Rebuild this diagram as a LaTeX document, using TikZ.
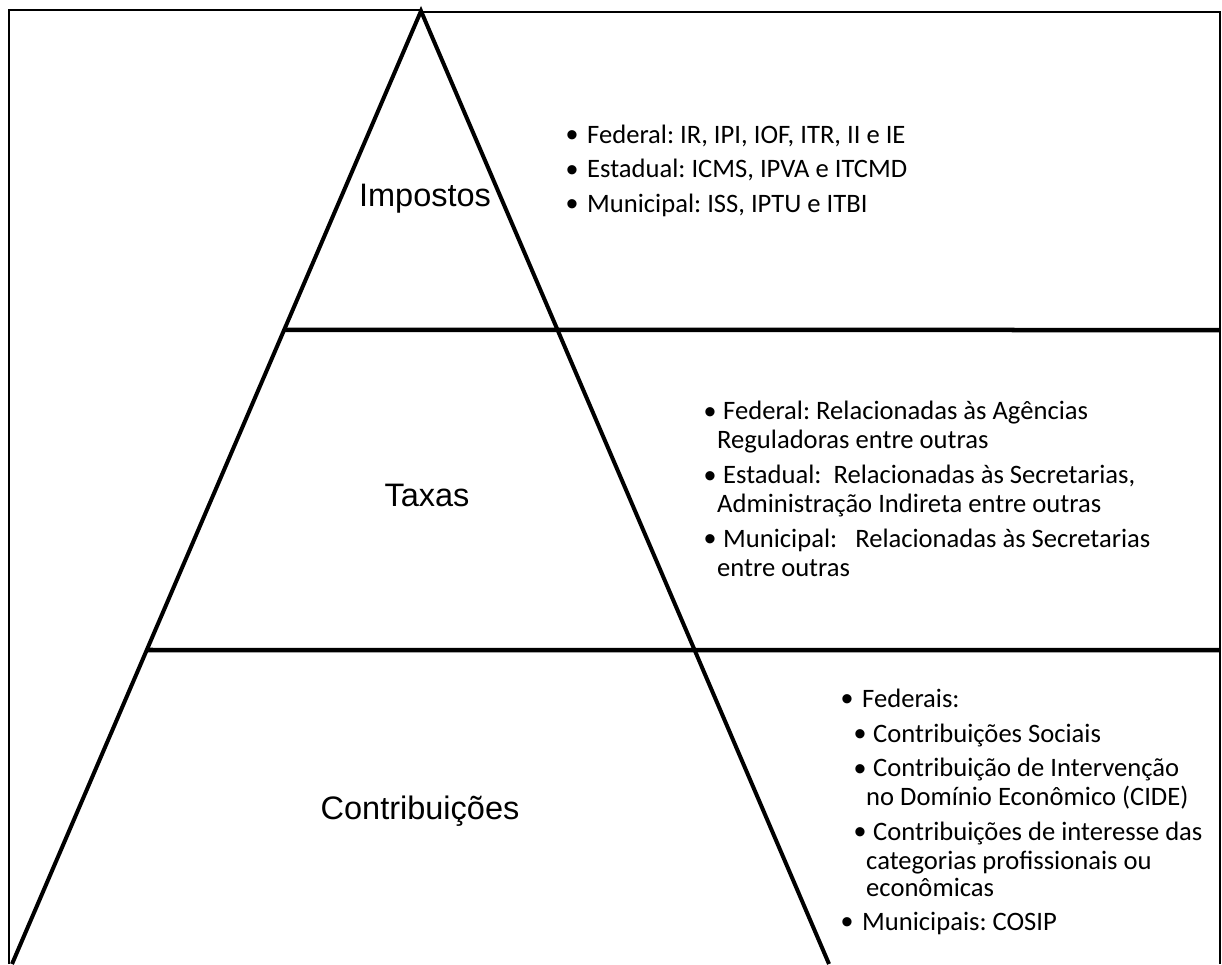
\documentclass[tikz,border=0pt]{standalone}
\usepackage{fontspec}
\setmainfont{Carlito}
\newfontfamily\arialf{Liberation Sans}
\usetikzlibrary{calc}
\frenchspacing
\begin{document}
\frenchspacing
\begin{tikzpicture}[x=1pt,y=-1pt,
  lbl/.style={font=\arialf\fontsize{32.5}{38}\selectfont, inner sep=0pt, anchor=base},
  txt/.style={font=\fontsize{26.6}{29}\selectfont, inner sep=0pt, anchor=base west},
  bul/.style={font=\arialf\fontsize{34}{36}\selectfont, inner sep=0pt, anchor=base west, yshift=-3.5pt},
  frameline/.style={line width=1.5pt},
  boxline/.style={line width=2.5pt},
  side/.style={line width=4pt, line join=miter},
  band/.style={line width=4.5pt}]
\useasboundingbox (0,0) rectangle (1222,964);
% key points
\coordinate (A) at (421,11);
\coordinate (BL) at (12,964);
\coordinate (BR) at (829,964);
\coordinate (FL) at (9,964);
\coordinate (FT) at (9,10);
\coordinate (FA) at (421,10);
\coordinate (RT) at (421,12);
\coordinate (RC) at (1220,12);
\coordinate (RB) at (1220,964);
\coordinate (H1L) at ($(A)!0.3347!(BL)$);
\coordinate (H2L) at ($(A)!0.6705!(BL)$);
\coordinate (H1R) at (1220,330);
\coordinate (H2R) at (1220,650);
% frame
\draw[frameline] (FL) -- (FT) -- (FA);
\draw[boxline] (RT) -- (RC) -- (RB);
% pyramid
\draw[side] (BL) -- (A) -- (BR);
\draw[band] (H1L) -- (H1R);
\draw[band] (H2L) -- (H2R);
% labels
\node[lbl] (imp) at (425,206) {Impostos};
\node[lbl] (tax) at (427,506) {Taxas};
\node[lbl] (con) at (420,819) {Contribuições};
% block 1
\node[bul] (b11) at (566,143) {•};
\node[txt] (t11) at (587,143) {Federal: IR, IPI, IOF, ITR, II e IE};
\node[bul] (b12) at (566,177.5) {•};
\node[txt] (t12) at (587,177.5) {Estadual: ICMS, IPVA e ITCMD};
\node[bul] (b13) at (566,212) {•};
\node[txt] (t13) at (587,212) {Municipal: ISS, IPTU e ITBI};
% block 2
\node[bul] (b21) at (704,419.5) {•};
\node[txt] (t21) at (723,419.5) {Federal: Relacionadas às Agências};
\node[txt] (t21b) at (717,448.5) {Reguladoras entre outras};
\node[bul] (b22) at (704,483.5) {•};
\node[txt] (t22) at (723,483.5) {Estadual:\ \ Relacionadas às Secretarias,};
\node[txt] (t22b) at (717,512.5) {Administração Indireta entre outras};
\node[bul] (b23) at (704,547) {•};
\node[txt] (t23) at (723,547) {Municipal:\ \ \ Relacionadas às Secretarias};
\node[txt] (t23b) at (717,576) {entre outras};
% block 3
\node[bul] (b31) at (841,707) {•};
\node[txt] (t31) at (862,707) {Federais:};
\node[bul] (b32) at (854,742) {•};
\node[txt] (t32) at (873,742) {Contribuições Sociais};
\node[bul] (b33) at (854,776.5) {•};
\node[txt] (t33) at (873,776.5) {Contribuição de Intervenção};
\node[txt] (t33b) at (866,805.5) {no Domínio Econômico (CIDE)};
\node[bul] (b34) at (854,840) {•};
\node[txt] (t34) at (873,840) {Contribuições de interesse das};
\node[txt] (t34b) at (866,869) {categorias profissionais ou};
\node[txt] (t34c) at (866,896) {econômicas};
\node[bul] (b35) at (841,930) {•};
\node[txt] (t35) at (862,930) {Municipais: COSIP};
\end{tikzpicture}
\end{document}
